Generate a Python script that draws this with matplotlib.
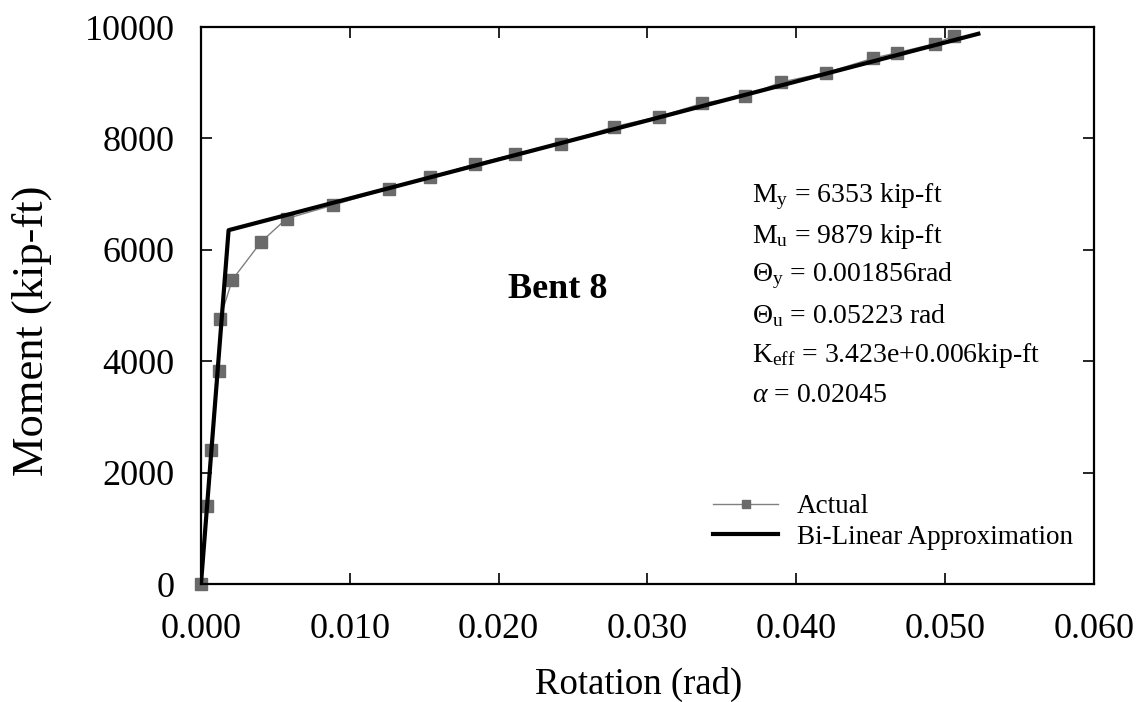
import matplotlib
matplotlib.use("Agg")
import matplotlib.pyplot as plt

plt.rcParams['font.family'] = ['Liberation Serif', 'DejaVu Serif']
plt.rcParams['mathtext.fontset'] = 'custom'
plt.rcParams['mathtext.rm'] = 'Liberation Serif'
plt.rcParams['mathtext.it'] = 'Liberation Serif:italic'
plt.rcParams['mathtext.bf'] = 'Liberation Serif:bold'

# Actual moment-rotation data
actual_rot = [0.0, 0.00038, 0.00065, 0.00121, 0.00128, 0.0021, 0.00403, 0.00575,
              0.00884, 0.01262, 0.01537, 0.01839, 0.02112, 0.02416, 0.02772,
              0.03078, 0.03369, 0.03656, 0.03897, 0.04199, 0.04517, 0.04678,
              0.04931, 0.0506]
actual_mom = [0, 1410, 2400, 3830, 4760, 5460, 6140, 6560,
              6800, 7100, 7300, 7540, 7720, 7900, 8210,
              8390, 8630, 8760, 9010, 9180, 9440, 9540,
              9700, 9840]

# Bi-linear approximation
bilin_rot = [0.0, 0.001856, 0.05223]
bilin_mom = [0, 6353, 9879]

xticks = [0.000, 0.010, 0.020, 0.030, 0.040, 0.050, 0.060]
xtick_labels = ['0.000', '0.010', '0.020', '0.030', '0.040', '0.050', '0.060']
yticks = [0, 2000, 4000, 6000, 8000, 10000]

info_lines = [
    r'M$_{\mathrm{y}}$ = 6353 kip-ft',
    r'M$_{\mathrm{u}}$ = 9879 kip-ft',
    r'Θ$_{\mathrm{y}}$ = 0.001856rad',
    r'Θ$_{\mathrm{u}}$ = 0.05223 rad',
    r'K$_{\mathrm{eff}}$ = 3.423e+0.006kip-ft',
    r'$\alpha$ = 0.02045',
]

fig = plt.figure(figsize=(11.38, 7.02), dpi=100)
ax = fig.add_axes([0.1766, 0.168, 0.9613 - 0.1766, 0.9615 - 0.168])

ax.plot(actual_rot, actual_mom, color='#808080', lw=1.0, marker='s',
        markersize=8.5, markerfacecolor='#6a6a6a', markeredgecolor='#6a6a6a',
        label='Actual', zorder=2, clip_on=False)
ax.plot(bilin_rot, bilin_mom, color='black', lw=3.0,
        label='Bi-Linear Approximation', zorder=3)

ax.set_xlim(0, 0.06)
ax.set_ylim(0, 10000)
ax.set_xticks(xticks)
ax.set_xticklabels(xtick_labels)
ax.set_yticks(yticks)

ax.tick_params(direction='in', length=8, width=1.2, top=True, right=True,
               labelsize=26)
ax.tick_params(axis='x', pad=21)
ax.tick_params(axis='y', pad=19)
for s in ax.spines.values():
    s.set_linewidth(1.6)

ax.set_xlabel('Rotation (rad)', fontsize=26.5)
ax.set_ylabel('Moment (kip-ft)', fontsize=32)
ax.xaxis.set_label_coords(0.490, -0.149)
ax.yaxis.set_label_coords(-0.167, 0.454)

ax.text(0.0240, 5290, 'Bent 8', fontsize=26, fontweight='bold',
        ha='center', va='center')

for i, line in enumerate(info_lines):
    ax.text(0.0370, 6960 - i * 715, line, fontsize=20, ha='left', va='center')

leg = ax.legend(loc='lower right', bbox_to_anchor=(1.004, 0.018), frameon=False,
                fontsize=19.5, handlelength=2.4, handletextpad=0.7,
                labelspacing=0.2, markerscale=0.6)

fig.savefig('out.png', dpi=100)
